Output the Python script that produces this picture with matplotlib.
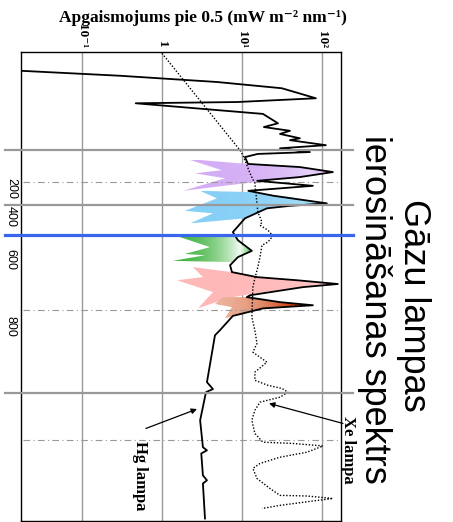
import numpy as np
import matplotlib
matplotlib.use("Agg")
import matplotlib.pyplot as plt
from matplotlib.patches import Polygon
from matplotlib.colors import LinearSegmentedColormap

# ---------------- data (wavelength nm, irradiance mW m-2 nm-1) ----------------
hg_wl = [280, 288, 298, 308, 324, 330, 332, 341, 349, 364, 370, 376, 381, 388,
         391, 399, 404, 410, 413, 418, 429, 434, 442, 450, 456, 464, 472, 480,
         492, 496, 500, 516, 538, 551, 568, 578, 591, 602, 610, 615, 621, 626,
         639, 642, 650, 655, 660, 668, 672, 695, 703, 778, 789, 794, 839, 882,
         887, 892, 927, 935, 940, 996]
hg_val = [0.017, 0.30, 4.9, 31.6, 84, 8.7, 0.47, 3.25, 18.3, 28.2, 18.8, 39.8,
          29.9, 53, 39.8, 112, 29.9, 70.8, 15.8, 10.9, 11.9, 53, 137, 53, 15.5,
          77, 12, 25, 115, 39.8, 20.5, 10.9, 7.7, 8.9, 13.3, 8.9, 7.1, 7.5, 15.4,
          48.7, 158, 57.9, 12.6, 11.5, 29.9, 77.2, 18.3, 10.3, 7.7, 5.3, 4.6,
          3.65, 4.34, 3.55, 3.0, 3.25, 3.65, 3.1, 3.25, 3.65, 3.25, 3.45]

xe_wl = [252, 407, 415, 444, 460, 506, 522, 527, 535, 544, 554, 559, 578, 594,
         612, 626, 674, 695, 716, 730, 746, 762, 775, 783, 788, 794, 802, 810,
         823, 839, 860, 874, 876, 880, 890, 898, 908, 916, 932, 948, 959, 960,
         964, 968, 975, 980]
xe_val = [1.0, 9.44, 10.3, 12.6, 14.5, 15.8, 17.8, 16.8, 21.1, 24.4, 21.1, 17.8,
          16.8, 15.8, 14.5, 13.7, 13.3, 14.5, 15.4, 13.7, 20.5, 14.5, 14.5, 21.1,
          31.6, 37.6, 29.9, 16.8, 14.5, 13.3, 14.5, 18.3, 43.4, 103, 64.9, 29.9,
          16.8, 13.7, 15.4, 22.4, 29.9, 64.9, 137, 77.2, 29.9, 17.8]

# excitation bands (outline points)
violet_wl = [421, 429, 434, 442, 450, 458, 472, 452, 444, 439]
violet_val = [2.05, 11.5, 53, 137, 53, 14.5, 1.83, 6.13, 2.58, 5.62]
blue_wl = [472, 474, 482, 492, 496, 500, 516, 524, 508, 504, 484]
blue_val = [2.99, 12.6, 39.8, 115, 39.8, 20.5, 10.9, 2.24, 4.34, 1.94, 4.87]
green_wl = [546, 541, 559, 568, 578, 586, 584, 575, 573, 562]
green_val = [1.68, 8.18, 10.0, 13.3, 8.91, 7.5, 1.37, 3.45, 1.94, 3.98]
pink_wl = [594, 602, 610, 615, 621, 626, 637, 644, 660, 634, 615, 610]
pink_val = [2.44, 7.5, 15.4, 48.7, 158, 57.9, 12.6, 6.49, 2.82, 4.34, 1.54, 3.25]
red_wl = [642, 642, 650, 655, 660, 668, 676, 658, 653]
red_val = [5.79, 11.5, 29.9, 77.2, 18.3, 10.3, 6.13, 7.5, 4.6]

band_lines = [407, 495, 796]
blue_mark = 542
dashdot_lines = [458, 663, 871]

ytick_pos = [458, 503, 573, 679]
ytick_labels = ['200', '400', '600', '800']
xtick_pos = [0.1, 1, 10, 100]
xtick_labels = ['10⁻¹', '1', '10¹', '10²']

SERIF = ['Liberation Serif', 'DejaVu Serif']
SANS = ['Liberation Sans', 'DejaVu Sans']


def grad_fill(ax, wl, val, colors, z=2):
    """fill a band outline with a left-to-right colour gradient"""
    poly = Polygon(np.column_stack([val, wl]), closed=True,
                   facecolor='none', edgecolor='none')
    ax.add_patch(poly)
    cmap = LinearSegmentedColormap.from_list('band', colors)
    grad = np.linspace(0, 1, 256).reshape(1, -1)
    im = ax.imshow(grad, cmap=cmap, aspect='auto', interpolation='bilinear',
                   extent=[min(val), max(val), max(wl), min(wl)], zorder=z)
    im.set_clip_path(poly)


fig = plt.figure(figsize=(4.53, 5.22), dpi=100)
ax = fig.add_axes([21 / 453, 1 - 521 / 522, 320 / 453, 469 / 522])
ax.set_xscale('log')

grad_fill(ax, violet_wl, violet_val, ['#d4adf5', '#e6d2fa', '#d2a8f3'])
grad_fill(ax, blue_wl, blue_val, ['#86cff6', '#a6dcf9', '#7cc8f4'])
grad_fill(ax, green_wl, green_val, ['#3bb03b', '#9ad89a', '#f2fbf2', '#45b845'])
grad_fill(ax, pink_wl, pink_val, ['#ffb8b8', '#ffc6c6', '#f39a9a'])
grad_fill(ax, red_wl, red_val, ['#ecb49c', '#cc3a0a', '#e27048'])

ax.plot(hg_val, hg_wl, color='black', lw=1.3, zorder=4)
ax.plot(xe_val, xe_wl, color='black', lw=1.0, ls=(0, (1, 1.3)), zorder=4)

# reference lines
tr = ax.get_yaxis_transform()
for y in band_lines:
    ax.plot([-0.05, 1.0375], [y, y], transform=tr, color='#999999', lw=1.6,
            clip_on=False, zorder=5)
ax.plot([-0.05, 1.0375], [blue_mark, blue_mark], transform=tr, color='#3a66ee',
        lw=2.3, clip_on=False, zorder=5)
for y in dashdot_lines:
    ax.plot([0.005, 0.99], [y, y], transform=tr, color='#999999', lw=0.8,
            ls=(0, (6, 3, 1, 3)), zorder=3)

ax.set_xlim(0.0173, 173)
ax.set_ylim(1000, 250)

ax.set_xticks(xtick_pos)
ax.set_xticklabels(xtick_labels, fontfamily=SERIF, fontweight='bold', fontsize=9.5)
ax.minorticks_off()
ax.xaxis.tick_top()
ax.tick_params(axis='x', length=0, pad=3, labelrotation=-90)
ax.grid(axis='x', color='#999999', lw=1)

ax.set_yticks(ytick_pos)
ax.set_yticklabels(ytick_labels, fontfamily=SANS, fontsize=9)
ax.tick_params(axis='y', length=0, pad=3, labelrotation=-90)

for s in ax.spines.values():
    s.set_linewidth(1)

# texts
fig.text(203 / 453, 1 - 18 / 522, 'Apgaismojums pie 0.5 (mW m⁻² nm⁻¹)',
         family=SERIF, weight='bold', fontsize=12.5, ha='center', va='center')
fig.text(414 / 453, 1 - 305 / 522, 'Gāzu lampas', family=SANS, fontsize=26,
         rotation=-90, ha='center', va='center')
fig.text(374 / 453, 1 - 309 / 522, 'ierosināšanas spektrs', family=SANS,
         fontsize=26, rotation=-90, ha='center', va='center')
fig.text(140 / 453, 1 - 476 / 522, 'Hg lampa', family=SERIF, weight='bold',
         fontsize=12, rotation=-90, ha='center', va='center')
fig.text(348 / 453, 1 - 450 / 522, 'Xe lampa', family=SERIF, weight='bold',
         fontsize=12, rotation=-90, ha='center', va='center')

arrow = dict(arrowstyle='-|>', lw=0.9, color='black', mutation_scale=8,
             shrinkA=0, shrinkB=0)
ax.annotate('', xy=(2.74, 821), xytext=(0.63, 852), arrowprops=arrow,
            annotation_clip=False)
ax.annotate('', xy=(21.8, 812), xytext=(183, 844), arrowprops=arrow,
            annotation_clip=False)

fig.savefig('out.png', dpi=100)
